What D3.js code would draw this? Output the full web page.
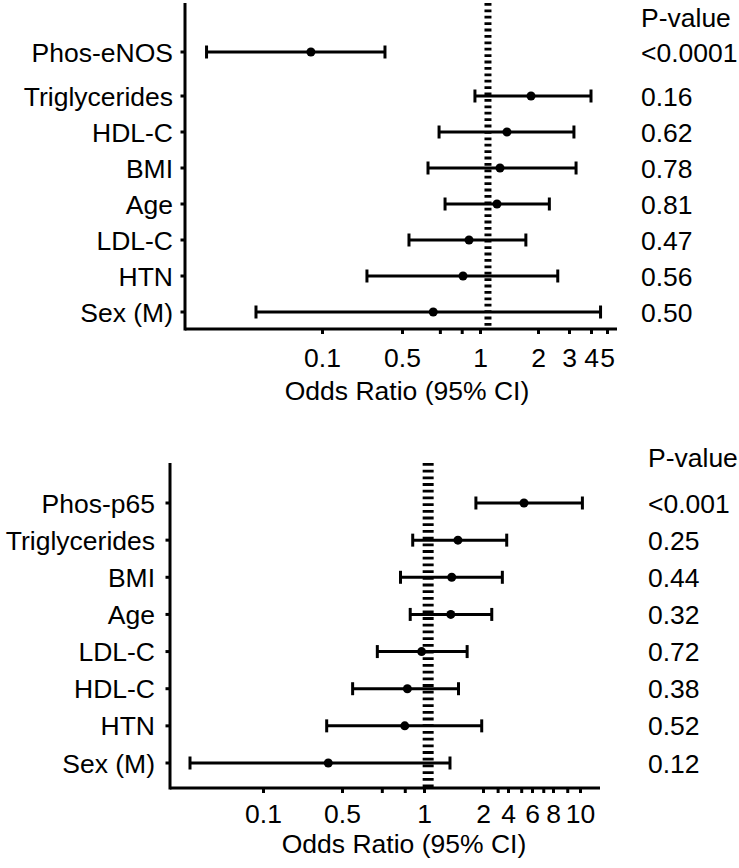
<!DOCTYPE html>
<html><head><meta charset="utf-8">
<script src="https://cdn.jsdelivr.net/npm/d3@7"></script>
<style>
body{margin:0;background:#fff}
svg{display:block}
text{font-family:"Liberation Sans",Arial,sans-serif;fill:#000}
</style>
</head><body>
<svg id="c" width="739" height="868"></svg>
<script>
// ---------------- DATA ----------------
// Top panel (eNOS)
const topLabels = ["Phos-eNOS","Triglycerides","HDL-C","BMI","Age","LDL-C","HTN","Sex (M)"];
const topOR   = [0.080, 1.84, 1.38, 1.27, 1.225, 0.907, 0.86, 0.66];
const topLow  = [0.0098, 0.956, 0.695, 0.63, 0.733, 0.532, 0.247, 0.0265];
const topHigh = [0.355, 4.0, 3.2, 3.29, 2.32, 1.73, 2.59, 4.57];
const topP    = ["<0.0001","0.16","0.62","0.78","0.81","0.47","0.56","0.50"];
const topTickValues = [0.1, 0.5, 0.7, 0.85, 1, 2, 3, 4, 5];
const topTickLabels = ["0.1","0.5","","","1","2","3","4","5"];
const topRef = 1.1;

// Bottom panel (p65)
const botLabels = ["Phos-p65","Triglycerides","BMI","Age","LDL-C","HDL-C","HTN","Sex (M)"];
const botOR   = [5.24, 1.49, 1.385, 1.37, 0.98, 0.869, 0.85, 0.378];
const botLow  = [1.84, 0.909, 0.82, 0.89, 0.674, 0.547, 0.366, 0.0226];
const botHigh = [10.2, 3.86, 3.42, 2.55, 1.66, 1.50, 1.97, 1.357];
const botP    = ["<0.001","0.25","0.44","0.32","0.72","0.38","0.52","0.12"];
const botTickValues = [0.1, 0.5, 0.7, 0.85, 1, 2, 3, 4, 5, 6, 7, 8, 9, 10];
const botTickLabels = ["0.1","0.5","","","1","2","","4","","6","","8","","10"];
const botRef = 1.05;

const axisTitle = "Odds Ratio (95% CI)";
const pHeader = "P-value";

// ---------------- LAYOUT ----------------
const FS = 26.5;
const topLayout = {
  yAxisX: 185, yTop: 3, xAxisY: 329, xEnd: 617,
  rowRange: [60, 312], firstRowGap: 8,
  labelRight: 173, pX: 641, pHeaderY: 27,
  tickLabelY: 367, titleY: 400, titleX: 407,
  anchorVals: [0.1, 0.5, 1, 2, 3, 4, 5],
  anchorPx:   [322, 402, 480, 538, 569, 591, 607],
  refWidth: 7, refDash: "2.8,3.6"
};
const botLayout = {
  yAxisX: 170, yTop: 463, xAxisY: 788, xEnd: 600,
  rowRange: [503, 763], firstRowGap: 0,
  labelRight: 155, pX: 648, pHeaderY: 467,
  tickLabelY: 823, titleY: 853, titleX: 404,
  anchorVals: [0.1, 0.5, 1, 2, 4, 6, 8, 10],
  anchorPx:   [263, 342, 424, 483, 508, 532, 553, 580],
  refWidth: 11, refDash: "2.8,3.9"
};

// piecewise-log scale usable by d3.axis
function makeX(vals, px, r0, r1) {
  const lin = d3.scaleLinear().domain(vals.map(Math.log10)).range(px);
  const s = v => lin(Math.log10(v));
  s.range = () => [r0, r1];
  s.domain = () => [r0, r1].map(p => Math.pow(10, lin.invert(p)));
  s.copy = () => makeX(vals, px, r0, r1);
  return s;
}

const svg = d3.select("#c");

function drawPanel(L, labels, or, lo, hi, pv, tickVals, tickLabs, ref) {
  const g = svg.append("g");
  const x = makeX(L.anchorVals, L.anchorPx, L.yAxisX, L.xEnd);
  const yp = d3.scalePoint().domain(labels).range(L.rowRange);
  const y = (d, i) => yp(d) - (i === 0 ? L.firstRowGap : 0);
  const rows = labels.map((d, i) => ({label: d, or: or[i], lo: lo[i], hi: hi[i], p: pv[i], y: y(d, i)}));

  // reference line
  g.append("line")
    .attr("x1", x(ref)).attr("x2", x(ref))
    .attr("y1", L.yTop).attr("y2", L.xAxisY)
    .attr("stroke", "#000").attr("stroke-width", L.refWidth)
    .attr("stroke-dasharray", L.refDash);

  // x axis
  const xAxis = d3.axisBottom(x)
    .tickValues(tickVals)
    .tickFormat((d, i) => tickLabs[i])
    .tickSizeOuter(0).tickSize(5);
  const ax = g.append("g").attr("transform", `translate(0,${L.xAxisY})`).call(xAxis);
  ax.select(".domain").attr("stroke", "#000").attr("stroke-width", 3)
    .attr("d", `M${L.yAxisX},0H${L.xEnd}`);
  ax.selectAll(".tick line").attr("stroke", "#000").attr("stroke-width", 3);
  ax.selectAll(".tick text")
    .attr("y", L.tickLabelY - L.xAxisY).attr("dy", null)
    .attr("font-size", FS).attr("fill", "#000");
  ax.attr("font-family", null).attr("font-size", null);

  // y axis
  g.append("line")
    .attr("x1", L.yAxisX).attr("x2", L.yAxisX)
    .attr("y1", L.yTop).attr("y2", L.xAxisY + 1.5)
    .attr("stroke", "#000").attr("stroke-width", 3);
  g.selectAll(".ytick").data(rows).join("line")
    .attr("class", "ytick")
    .attr("x1", L.yAxisX - 4.5).attr("x2", L.yAxisX)
    .attr("y1", d => d.y).attr("y2", d => d.y)
    .attr("stroke", "#000").attr("stroke-width", 3);
  g.selectAll(".ylab").data(rows).join("text")
    .attr("class", "ylab")
    .attr("x", L.labelRight).attr("y", d => d.y).attr("dy", "0.36em")
    .attr("text-anchor", "end").attr("font-size", FS)
    .text(d => d.label);

  // error bars
  g.selectAll(".ci").data(rows).join("line")
    .attr("class", "ci")
    .attr("x1", d => x(d.lo)).attr("x2", d => x(d.hi))
    .attr("y1", d => d.y).attr("y2", d => d.y)
    .attr("stroke", "#000").attr("stroke-width", 3);
  const caps = rows.flatMap(d => [{x: d.lo, y: d.y}, {x: d.hi, y: d.y}]);
  g.selectAll(".cap").data(caps).join("line")
    .attr("class", "cap")
    .attr("x1", d => x(d.x)).attr("x2", d => x(d.x))
    .attr("y1", d => d.y - 6.5).attr("y2", d => d.y + 6.5)
    .attr("stroke", "#000").attr("stroke-width", 3);
  g.selectAll(".pt").data(rows).join("circle")
    .attr("class", "pt")
    .attr("cx", d => x(d.or)).attr("cy", d => d.y).attr("r", 4.5)
    .attr("fill", "#000");

  // p-values
  g.append("text").attr("x", L.pX).attr("y", L.pHeaderY)
    .attr("font-size", FS).text(pHeader);
  g.selectAll(".pv").data(rows).join("text")
    .attr("class", "pv")
    .attr("x", L.pX).attr("y", d => d.y).attr("dy", "0.36em")
    .attr("font-size", FS).text(d => d.p);

  // axis title
  g.append("text").attr("x", L.titleX).attr("y", L.titleY)
    .attr("text-anchor", "middle").attr("font-size", FS).text(axisTitle);
}

drawPanel(topLayout, topLabels, topOR, topLow, topHigh, topP, topTickValues, topTickLabels, topRef);
drawPanel(botLayout, botLabels, botOR, botLow, botHigh, botP, botTickValues, botTickLabels, botRef);
</script>
</body></html>
